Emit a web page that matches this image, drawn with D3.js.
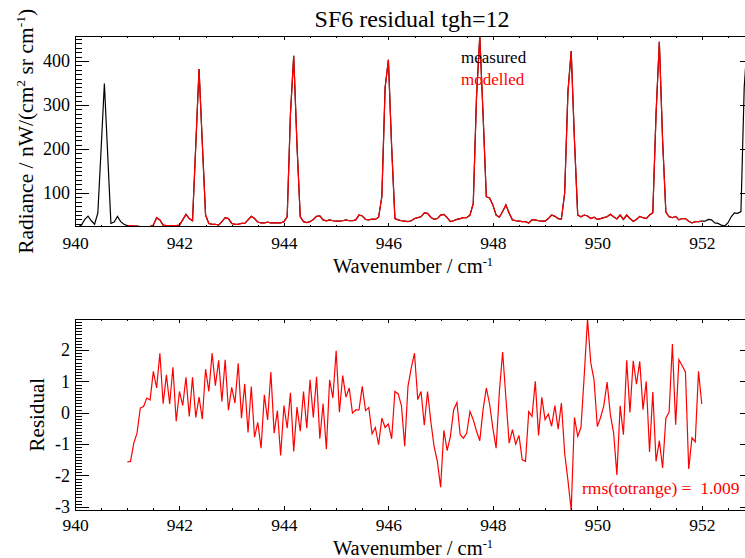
<!DOCTYPE html>
<html>
<head>
<meta charset="utf-8">
<script src="https://cdn.jsdelivr.net/npm/d3@7"></script>
<style>
  body { margin: 0; background: #fff; }
  svg { display: block; }
  text { font-family: "Liberation Serif", "Times New Roman", serif; fill: #000; }
</style>
</head>
<body>
<svg id="chart" width="745" height="558"></svg>
<script>
// ---------------- DATA ----------------
const titleText = "SF6 residual tgh=12";
const waveStartMeasured = 940.0;   // cm-1, first measured sample
const waveStartModelled = 941.0;   // cm-1, first modelled / residual sample
const waveStep = 0.0625;           // spectral sampling (cm-1)

// measured radiance (nW/(cm2 sr cm-1)), 940.0 -> 952.875
const measured = [
  23.5, 23.5, 27, 40, 47.5, 37, 29, 55, 200, 349, 190, 31, 34, 47, 35, 29,
  26, 26, 25, 25, 24, 24, 24, 24, 27, 44, 39, 27, 26, 26, 26, 26,
  27, 39, 51.5, 42, 37, 209, 382, 213, 50, 31, 29, 29, 27, 35, 44, 42,
  31, 29, 29, 31, 31, 39, 47, 42, 34, 32, 32, 34, 32, 32, 32, 32,
  35, 46, 280, 412, 209, 46, 35, 33, 35, 40, 47, 48, 39, 37, 39, 37,
  36, 36, 37, 39, 37, 37, 39, 50, 48, 40, 39, 41, 40, 45, 92, 340,
  403, 205, 42, 39, 37, 36, 35, 37, 42, 44, 46, 55, 54, 45, 40, 42,
  50, 51.5, 44, 35, 37, 40, 42, 44, 44, 50, 76.5, 319, 457, 279, 91.7, 89,
  73, 50, 45, 58, 73, 54, 39, 37, 36, 35, 35, 32, 39, 39, 37, 36,
  36, 42, 50, 47, 42, 41, 100, 330, 423, 220, 50, 46, 50, 48, 42, 45,
  40, 42, 44, 46, 52, 46, 41, 50, 40, 50, 42, 36, 40, 47, 44, 42,
  50, 55, 281, 444, 220, 57, 46, 44, 47, 39, 42, 42, 36, 32, 35, 35,
  36, 36, 40, 39, 32, 31, 27, 25, 32, 46, 55, 54, 58, 340, 450
];

// modelled radiance, 941.0 -> 952.0
const modelled = [
  26, 26, 25, 25, 24, 24, 24, 24, 27, 44, 39, 27, 26, 26, 26, 26,
  27, 39, 51.5, 42, 37, 209, 382, 213, 50, 31, 29, 29, 27, 35, 44, 42,
  31, 29, 29, 31, 31, 39, 47, 42, 34, 32, 32, 34, 32, 32, 32, 32,
  35, 46, 280, 412, 209, 46, 35, 33, 35, 40, 47, 48, 39, 37, 39, 37,
  36, 36, 37, 39, 37, 37, 39, 50, 48, 40, 39, 41, 40, 45, 92, 340,
  403, 205, 42, 39, 37, 36, 35, 37, 42, 44, 46, 55, 54, 45, 40, 42,
  50, 51.5, 44, 35, 37, 40, 42, 44, 44, 50, 76.5, 319, 457, 279, 91.7, 89,
  73, 50, 45, 58, 73, 54, 39, 37, 36, 35, 35, 32, 39, 39, 37, 36,
  36, 42, 50, 47, 42, 41, 100, 330, 423, 220, 50, 46, 50, 48, 42, 45,
  40, 42, 44, 46, 52, 46, 41, 50, 40, 50, 42, 36, 40, 47, 44, 42,
  50, 55, 281, 444, 220, 57, 46, 44, 47, 39, 42, 42, 36, 32, 35, 35,
  36
];

// residual (measured - modelled), 941.0 -> 952.0
const residual = [
  -1.57, -1.55, -0.97, -0.65, 0.15, 0.20, 0.47, 0.41, 1.32, 0.79, 1.90, 0.29, 1.21, 0.28, 1.45, -0.27,
  0.68, 0.23, 1.13, -0.12, 1.13, -0.15, 0.50, -0.20, 1.39, 0.68, 1.90, 0.86, 1.67, 0.36, 1.69, 0.08,
  0.81, 0.31, 1.58, -0.17, 0.92, -0.63, 0.84, -0.78, -0.31, -1.13, 0.57, -0.23, 1.30, -0.65, 0.07, -1.36,
  0.23, -0.49, 0.64, -1.23, 0.18, -0.59, 0.68, -0.49, 1.05, -0.15, 1.15, -0.83, 0.29, -1.16, 1.05, 0.47,
  1.98, 0.02, 1.19, 0.50, 0.79, -0.01, 0.09, 0.09, 0.84, 0.07, 0.17, -0.67, -0.47, -1.02, -0.17, -0.47,
  -0.36, -0.83, 0.68, 0.60, 0.23, -1.07, 0.84, 1.42, 1.90, 0.42, 0.68, -0.40, 0.68, -0.28, -1.07, -1.55,
  -2.37, -0.56, -1.21, -0.75, 0.10, 0.33, -0.70, -0.81, -0.65, 0.04, -0.22, -0.59, -0.89, 0.10, 0.79, 0.28,
  -0.49, -1.13, 0.68, 1.94, 0.47, -0.97, -0.54, -1.00, -0.72, -1.50, -1.55, 0.04, -0.12, 1.00, -0.72, 0.49,
  -0.22, -0.04, -0.43, 0.23, -0.52, 0.31, -1.29, -2.15, -3.11, -0.15, -0.75, -0.47, 1.20, 2.99, 1.59, 1.05,
  -0.44, -0.15, 0.23, 0.98, -0.06, -0.65, -1.98, 0.22, -0.70, 1.67, 0.01, 1.66, 0.91, 1.64, 0.10, 1.00,
  -1.25, 0.66, -1.55, -0.89, -1.76, -0.17, 0.02, 2.19, -0.38, 1.69, 1.50, 1.30, -1.79, -0.80, -0.93, 1.32,
  0.28
];

const xDomain = [940, 953];
const xTicks = [940, 942, 944, 946, 948, 950, 952];
const xMinorTicks = [940.5, 941, 941.5, 942.5, 943, 943.5, 944.5, 945, 945.5, 946.5, 947, 947.5,
                     948.5, 949, 949.5, 950.5, 951, 951.5, 952.5];
const radianceTicks = [100, 200, 300, 400];
const residualTicks = [-3, -2, -1, 0, 1, 2];
const legendLabels = ["measured", "modelled"];
const rmsLabel = "rms(totrange) =  1.009";

// ---------------- LAYOUT ----------------
const svg = d3.select("#chart");
svg.append("rect").attr("width", 745).attr("height", 558).attr("fill", "#fff");

const L = 75, R = 754;
const topPanel = { top: 36, bottom: 226.7 };
const botPanel = { top: 319, bottom: 510.3 };

const x = d3.scaleLinear().domain(xDomain).range([L, R]);
const yTop = d3.scaleLinear().domain(d3.extent(measured)).range([topPanel.bottom, topPanel.top]);
const yBot = d3.scaleLinear().domain(d3.extent(residual)).range([botPanel.bottom, botPanel.top]);

const measuredWave = measured.map((_, i) => waveStartMeasured + i * waveStep);
const modelledWave = modelled.map((_, i) => waveStartModelled + i * waveStep);
const residualWave = residual.map((_, i) => waveStartModelled + i * waveStep);

function minorRange(domain, step, majors) {
  const out = [];
  const start = Math.ceil(domain[0] / step);
  const end = Math.floor(domain[1] / step);
  for (let k = start; k <= end; k++) {
    const v = +(k * step).toFixed(6);
    if (!majors.some(m => Math.abs(m - v) < 1e-9)) out.push(v);
  }
  return out;
}

function styleAxis(g, fontSize) {
  g.select(".domain").remove();
  g.attr("font-family", null).attr("font-size", null);
  g.selectAll("line").attr("stroke", "#000").attr("stroke-width", 1).attr("shape-rendering", "crispEdges");
  g.selectAll("text").attr("font-size", fontSize).attr("fill", "#000");
}

function drawFrame(p, y, yMajor, yMinor, pad) {
  const g = svg.append("g");
  g.append("g").attr("transform", `translate(0,${p.bottom})`)
    .call(d3.axisBottom(x).tickValues(xTicks).tickSize(-4).tickPadding(pad).tickFormat(d => String(d)))
    .call(a => styleAxis(a, "17.5px"));
  g.append("g").attr("transform", `translate(0,${p.bottom})`)
    .call(d3.axisBottom(x).tickValues(xMinorTicks).tickSize(-2).tickFormat(""))
    .call(a => styleAxis(a, "17.5px"));
  g.append("g").attr("transform", `translate(0,${p.top})`)
    .call(d3.axisTop(x).tickValues(xTicks).tickSize(-4).tickFormat(""))
    .call(a => styleAxis(a, "17.5px"));
  g.append("g").attr("transform", `translate(0,${p.top})`)
    .call(d3.axisTop(x).tickValues(xMinorTicks).tickSize(-2).tickFormat(""))
    .call(a => styleAxis(a, "17.5px"));
  g.append("g").attr("transform", `translate(${L},0)`)
    .call(d3.axisLeft(y).tickValues(yMajor).tickSize(-14).tickPadding(5).tickFormat(d => String(d)))
    .call(a => styleAxis(a, "18px"));
  g.append("g").attr("transform", `translate(${L},0)`)
    .call(d3.axisLeft(y).tickValues(yMinor).tickSize(-7).tickFormat(""))
    .call(a => styleAxis(a, "18px"));
  g.append("g").attr("transform", `translate(${R},0)`)
    .call(d3.axisRight(y).tickValues(yMajor).tickSize(-14).tickFormat(""))
    .call(a => styleAxis(a, "18px"));
  g.append("g").attr("transform", `translate(${R},0)`)
    .call(d3.axisRight(y).tickValues(yMinor).tickSize(-7).tickFormat(""))
    .call(a => styleAxis(a, "18px"));
  g.append("rect").attr("x", L).attr("y", p.top).attr("width", R - L).attr("height", p.bottom - p.top)
    .attr("fill", "none").attr("stroke", "#000").attr("stroke-width", 1).attr("shape-rendering", "crispEdges");
}

function xTitle(yBase) {
  const t = svg.append("text").attr("x", 413).attr("y", yBase).attr("text-anchor", "middle").attr("font-size", "20.5px");
  t.append("tspan").text("Wavenumber / cm");
  t.append("tspan").attr("dy", -7).attr("font-size", "12.5px").text("-1");
}

const defs = svg.append("defs");
defs.append("clipPath").attr("id", "clipTop").append("rect")
  .attr("x", L).attr("y", topPanel.top).attr("width", R - L).attr("height", topPanel.bottom - topPanel.top);
defs.append("clipPath").attr("id", "clipBot").append("rect")
  .attr("x", L).attr("y", botPanel.top).attr("width", R - L).attr("height", botPanel.bottom - botPanel.top);

// ---------------- TOP PANEL ----------------
const lineTop = d3.line().x(d => x(d[0])).y(d => yTop(d[1]));
const gTop = svg.append("g").attr("clip-path", "url(#clipTop)");
gTop.append("path").datum(measuredWave.map((w, i) => [w, measured[i]]))
  .attr("d", lineTop).attr("fill", "none").attr("stroke", "#000").attr("stroke-width", 1.2);
gTop.append("path").datum(modelledWave.map((w, i) => [w, modelled[i]]))
  .attr("d", lineTop).attr("fill", "none").attr("stroke", "#ff0000").attr("stroke-width", 1.2);

drawFrame(topPanel, yTop, radianceTicks, minorRange(yTop.domain(), 10, radianceTicks), 10);

svg.append("text").attr("x", 412).attr("y", 27).attr("text-anchor", "middle")
  .attr("font-size", "24px").text(titleText);

svg.append("text").attr("x", 461).attr("y", 63).attr("font-size", "17px").attr("fill", "#000").text(legendLabels[0]);
svg.append("text").attr("x", 461).attr("y", 85).attr("font-size", "17px").style("fill", "#ff0000").text(legendLabels[1]);

{
  const t = svg.append("text").attr("transform", `translate(33,${(topPanel.top + topPanel.bottom) / 2}) rotate(-90)`)
    .attr("text-anchor", "middle").attr("font-size", "21.5px");
  t.append("tspan").text("Radiance / nW/(cm");
  t.append("tspan").attr("dy", -8).attr("font-size", "13.5px").text("2");
  t.append("tspan").attr("dy", 8).text(" sr cm");
  t.append("tspan").attr("dy", -8).attr("font-size", "13.5px").text("-1");
  t.append("tspan").attr("dy", 8).text(")");
}
xTitle(272.5);

// ---------------- BOTTOM PANEL ----------------
const lineBot = d3.line().x(d => x(d[0])).y(d => yBot(d[1]));
svg.append("g").attr("clip-path", "url(#clipBot)")
  .append("path").datum(residualWave.map((w, i) => [w, residual[i]]))
  .attr("d", lineBot).attr("fill", "none").attr("stroke", "#ff0000").attr("stroke-width", 1.2);

drawFrame(botPanel, yBot, residualTicks, minorRange(yBot.domain(), 0.1, residualTicks), 8.5);

svg.append("text").attr("transform", `translate(44,${(botPanel.top + botPanel.bottom) / 2}) rotate(-90)`)
  .attr("text-anchor", "middle").attr("font-size", "21px").text("Residual");

svg.append("text").attr("x", 582).attr("y", 494).attr("font-size", "17.5px").style("fill", "#ff0000")
  .style("white-space", "pre").text(rmsLabel);

xTitle(554.5);
</script>
</body>
</html>
